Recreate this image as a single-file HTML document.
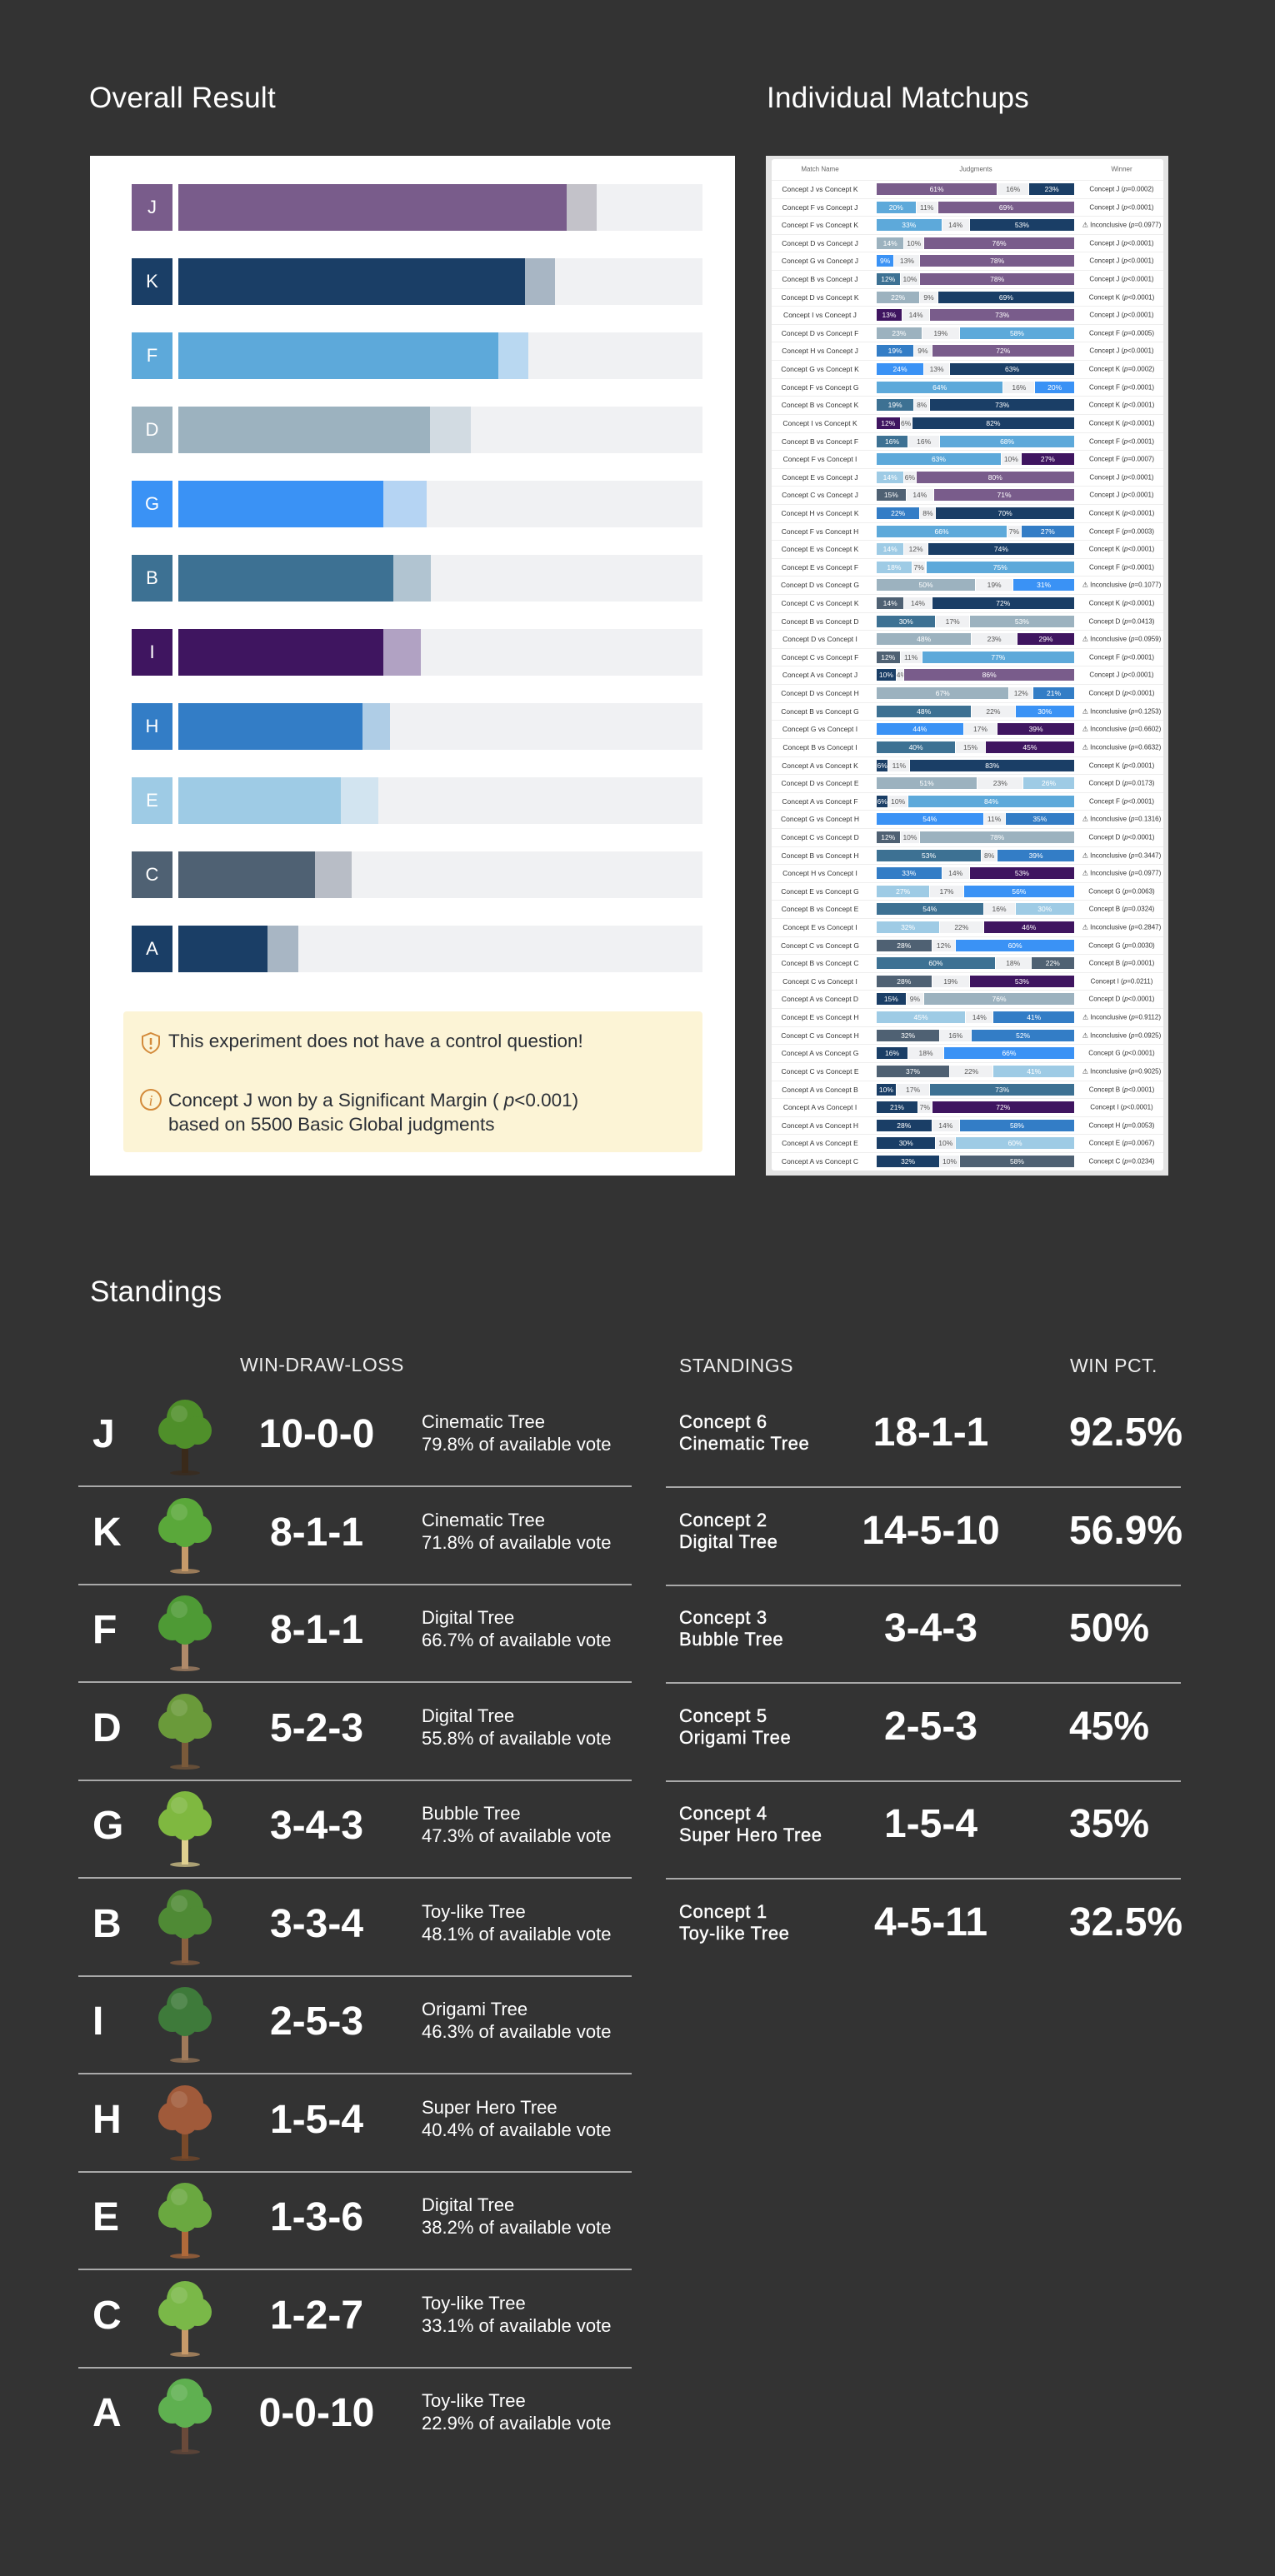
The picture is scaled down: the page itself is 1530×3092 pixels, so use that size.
<!DOCTYPE html>
<html><head><meta charset="utf-8">
<style>
html,body{margin:0;padding:0}
body{width:1530px;height:3092px;background:#333333;position:relative;overflow:hidden;font-family:"Liberation Sans",sans-serif;color:#fff}
.abs{position:absolute}
.title{font-size:35px;color:#fff;white-space:nowrap;font-family:"Liberation Sans Narrow","Liberation Sans",sans-serif;letter-spacing:0.3px}
.mtxt{position:absolute;font-size:8.5px;color:#333;white-space:nowrap;transform:translate(-50%,-50%)}
.seg{position:absolute;height:14px;font-size:8.5px;line-height:14px;text-align:center;overflow:hidden;white-space:nowrap}
.sep{position:absolute;height:2px;background:#a9a9a9}
.hdr{position:absolute;font-size:23px;color:#eee;letter-spacing:0.5px;white-space:nowrap}
</style></head>
<body>

<div class="abs title" style="left:107px;top:98px">Overall Result</div>
<div class="abs title" style="left:920px;top:98px">Individual Matchups</div>

<div class="abs" id="overall" style="left:108px;top:187px;width:774px;height:1224px;background:#fff">
  <div class="abs" style="left:40px;top:1027px;width:695px;height:169px;background:#fcf4d6;border-radius:4px">
    <svg class="abs" style="left:20px;top:24px" width="26" height="28" viewBox="0 0 26 28"><path d="M13 2 L23 6 L23 14 C23 20 18 24 13 26 C8 24 3 20 3 14 L3 6 Z" fill="none" stroke="#d38a3a" stroke-width="2"/><line x1="13" y1="8" x2="13" y2="16" stroke="#d38a3a" stroke-width="2.5"/><circle cx="13" cy="20" r="1.5" fill="#d38a3a"/></svg>
    <div class="abs" style="left:54px;top:23px;font-size:22.5px;color:#2b2f36;white-space:nowrap">This experiment does not have a control question!</div>
    <svg class="abs" style="left:19px;top:92px" width="28" height="28" viewBox="0 0 28 28"><circle cx="14" cy="14" r="12" fill="none" stroke="#d38a3a" stroke-width="2"/><text x="14" y="21" text-anchor="middle" font-family="Liberation Serif" font-style="italic" font-size="18" fill="#d38a3a">i</text></svg>
    <div class="abs" style="left:54px;top:92px;font-size:22.5px;line-height:29px;color:#2b2f36;white-space:nowrap">Concept J won by a Significant Margin ( <i>p</i>&lt;0.001)<br>based on 5500 Basic Global judgments</div>
  </div>
</div>

<div class="abs" style="left:919px;top:187px;width:483px;height:1224px;background:#e4e4e4">
  <div class="abs" id="mcard" style="left:7px;top:4px;width:470px;height:1214px;background:#fff;border-radius:3px"></div>
</div>

<div class="abs title" style="left:108px;top:1531px">Standings</div>
<div class="hdr" style="left:288px;top:1625px">WIN-DRAW-LOSS</div>
<div class="hdr" style="left:815px;top:1626px">STANDINGS</div>
<div class="hdr" style="left:1284px;top:1626px">WIN PCT.</div>
<div id="stand"></div>

<script>
// ---- Overall result data ----
const overallLetters = ['J','K','F','D','G','B','I','H','E','C','A'];
const overallWin = [74.1,66.1,61.0,48.0,39.1,41.0,39.1,35.1,31.0,26.1,17.0];
const overallTotal = [79.8,71.8,66.7,55.8,47.3,48.1,46.3,40.4,38.2,33.1,22.9];
const colors = {J:'#795c8b',K:'#1a3e66',F:'#5da9da',D:'#9cb2bf',G:'#3a92f5',B:'#3d7193',I:'#3f1560',H:'#337dc6',E:'#9ecbe5',C:'#4f6173',A:'#1a3e66'};
const lightColors = {J:'#c3c2c9',K:'#a8b6c4',F:'#b9d8f1',D:'#d2dbe2',G:'#b5d4f3',B:'#b1c4d1',I:'#b1a2c3',H:'#afcde6',E:'#d2e4f0',C:'#b8bdc6',A:'#a8b6c4'};

const ov = document.getElementById('overall');
const trackX = 106, trackW = 629;
function xScale(p){return p/100*trackW;}
overallLetters.forEach((L,i)=>{
  const top = 34 + i*89;
  const lab = document.createElement('div');
  
  
  lab.style.cssText = `position:absolute;left:50px;top:${top}px;width:49px;height:56px;background:${colors[L]};color:#fff;font-size:22px;line-height:56px;text-align:center`;
  lab.textContent = L;
  ov.appendChild(lab);
  const tr = document.createElement('div');
  
  
  tr.style.cssText = `position:absolute;left:${trackX}px;top:${top}px;width:${trackW}px;height:56px;background:#f0f1f3`;
  ov.appendChild(tr);
  const lt = document.createElement('div');
  
  
  lt.style.cssText = `position:absolute;left:${trackX}px;top:${top}px;width:${xScale(overallTotal[i])}px;height:56px;background:${lightColors[L]}`;
  ov.appendChild(lt);
  const dk = document.createElement('div');
  
  
  dk.style.cssText = `position:absolute;left:${trackX}px;top:${top}px;width:${xScale(overallWin[i])}px;height:56px;background:${colors[L]}`;
  ov.appendChild(dk);
});

// ---- Matchup data ----
const mFirst = ['J','F','F','D','G','B','D','I','D','H','G','F','B','I','B','F','E','C','H','F','E','E','D','C','B','D','C','A','D','B','G','B','A','D','A','G','C','B','H','E','B','E','C','B','C','A','E','C','A','C','A','A','A','A','A'];
const mSecond = ['K','J','K','J','J','J','K','J','F','J','K','G','K','K','F','I','J','J','K','H','K','F','G','K','D','I','F','J','H','G','I','I','K','E','F','H','D','H','I','G','E','I','G','C','I','D','H','H','G','E','B','I','H','E','C'];
const mFirstPct = [61,20,33,14,9,12,22,13,23,19,24,64,19,12,16,63,14,15,22,66,14,18,50,14,30,48,12,10,67,48,44,40,6,51,6,54,12,53,33,27,54,32,28,60,28,15,45,32,16,37,10,21,28,30,32];
const mDrawPct = [16,11,14,10,13,10,9,14,19,9,13,16,8,6,16,10,6,14,8,7,12,7,19,14,17,23,11,4,12,22,17,15,11,23,10,11,10,8,14,17,16,22,12,18,19,9,14,16,18,22,17,7,14,10,10];
const mSecondPct = [23,69,53,76,78,78,69,73,58,72,63,20,73,82,68,27,80,71,70,27,74,75,31,72,53,29,77,86,21,30,39,45,83,26,84,35,78,39,53,56,30,46,60,22,53,76,41,52,66,41,73,72,58,60,58];
const mWinner = ['J','J','?','J','J','J','K','J','F','J','K','F','K','K','F','F','J','J','K','F','K','F','?','K','D','?','F','J','D','?','?','?','K','D','F','?','D','?','?','G','B','?','G','B','I','D','?','?','G','?','B','I','H','E','C'];
const mPValue = ['=0.0002','<0.0001','=0.0977','<0.0001','<0.0001','<0.0001','<0.0001','<0.0001','=0.0005','<0.0001','=0.0002','<0.0001','<0.0001','<0.0001','<0.0001','=0.0007','<0.0001','<0.0001','<0.0001','=0.0003','<0.0001','<0.0001','=0.1077','<0.0001','=0.0413','=0.0959','<0.0001','<0.0001','<0.0001','=0.1253','=0.6602','=0.6632','<0.0001','=0.0173','<0.0001','=0.1316','<0.0001','=0.3447','=0.0977','=0.0063','=0.0324','=0.2847','=0.0030','=0.0001','=0.0211','<0.0001','=0.9112','=0.0925','<0.0001','=0.9025','<0.0001','<0.0001','=0.0053','=0.0067','=0.0234'];

const mc = document.getElementById('mcard');
[['Match Name',58],['Judgments',245],['Winner',420]].forEach(([t,x])=>{
  const h = document.createElement('div');
  h.className='mtxt';
  
  
  h.style.left = x+'px'; h.style.top='12px'; h.style.color='#666'; h.style.fontSize='8px';
  h.textContent = t;
  mc.appendChild(h);
});
const barX = 126, barW = 238, rowY0 = 36, rowH = 21.61;
function bx(p){return p/100*barW;}
mFirst.forEach((a,i)=>{
  const b = mSecond[i];
  const cy = rowY0 + i*rowH;
  const line = document.createElement('div');
  
  
  line.style.cssText = `position:absolute;left:0;width:470px;top:${cy-11}px;height:1px;background:#eeeeee`;
  mc.appendChild(line);
  const nm = document.createElement('div');
  nm.className='mtxt';
  
  
  nm.style.left='58px'; nm.style.top=cy+'px';
  nm.textContent = `Concept ${a} vs Concept ${b}`;
  mc.appendChild(nm);
  const parts = [[mFirstPct[i],colors[a],'#fff'],[mDrawPct[i],'#f0f1f3','#555'],[mSecondPct[i],colors[b],'#fff']];
  let x = barX;
  parts.forEach((p,k)=>{
    const s = document.createElement('div');
    s.className='seg';
    
    
    const w = bx(p[0]);
    s.style.left = x+'px'; s.style.top=(cy-7)+'px'; s.style.width=(w-1)+'px';
    s.style.background=p[1]; s.style.color=p[2];
    s.textContent = p[0]+'%';
    mc.appendChild(s);
    x += w;
  });
  const wn = document.createElement('div');
  wn.className='mtxt';
  
  
  wn.style.left='420px'; wn.style.top=cy+'px'; wn.style.fontSize='8px';
  const w = mWinner[i];
  wn.innerHTML = (w==='?' ? '&#9888; Inconclusive' : 'Concept '+w) + ' (<i>p</i>' + mPValue[i].replace('<','&lt;') + ')';
  mc.appendChild(wn);
});

// ---- Standings ----
const stLetters = ['J','K','F','D','G','B','I','H','E','C','A'];
const stRecords = ['10-0-0','8-1-1','8-1-1','5-2-3','3-4-3','3-3-4','2-5-3','1-5-4','1-3-6','1-2-7','0-0-10'];
const stStyles = ['Cinematic Tree','Cinematic Tree','Digital Tree','Digital Tree','Bubble Tree','Toy-like Tree','Origami Tree','Super Hero Tree','Digital Tree','Toy-like Tree','Toy-like Tree'];
const stVote = ['79.8','71.8','66.7','55.8','47.3','48.1','46.3','40.4','38.2','33.1','22.9'];
const treeGreens = ['#4f8f2a','#5aa83a','#4e9a35','#6a9a3a','#7fb840','#4f8a35','#3e7a3a','#a05a3a','#6aa840','#7ab848','#5fb050'];
const trunkCols = ['#3a2a1a','#c69a6a','#b08a6a','#7a5a3a','#e0d090','#8a6040','#a07a5a','#7a4a2a','#b06a3a','#c89a6a','#6a4a3a'];

const st = document.getElementById('stand');
const rowPitch = 117.5;
stLetters.forEach((L,i)=>{
  const cy = 1722 + i*rowPitch;
  const let_ = document.createElement('div');
  
  
  let_.style.cssText = `position:absolute;left:111px;top:${cy-28}px;font-size:48px;line-height:56px;font-weight:bold;color:#fff`;
  let_.textContent = L;
  st.appendChild(let_);
  const tree = document.createElementNS('http://www.w3.org/2000/svg','svg');
  
  
  tree.setAttribute('width','90'); tree.setAttribute('height','100');
  tree.style.cssText = `position:absolute;left:177px;top:${cy-50}px`;
  const g = treeGreens[i], t = trunkCols[i];
  tree.innerHTML = `<rect x="41" y="50" width="8" height="46" fill="${t}"/><ellipse cx="45" cy="96" rx="18" ry="3" fill="${t}" opacity="0.7"/>
  <circle cx="45" cy="30" r="22" fill="${g}"/><circle cx="30" cy="45" r="17" fill="${g}"/><circle cx="60" cy="45" r="17" fill="${g}"/>
  <circle cx="45" cy="52" r="15" fill="${g}"/><circle cx="38" cy="25" r="10" fill="#ffffff" opacity="0.12"/>`;
  st.appendChild(tree);
  const rec = document.createElement('div');
  
  
  rec.style.cssText = `position:absolute;left:300px;width:160px;text-align:center;top:${cy-28}px;font-size:48px;line-height:56px;font-weight:bold;color:#fff;white-space:nowrap`;
  rec.textContent = stRecords[i];
  st.appendChild(rec);
  const d = document.createElement('div');
  
  
  d.style.cssText = `position:absolute;left:506px;top:${cy-29}px;font-size:22px;line-height:27px;color:#fff;white-space:nowrap`;
  d.innerHTML = stStyles[i] + '<br>' + stVote[i] + '% of available vote';
  st.appendChild(d);
  if(i<10){
    const s = document.createElement('div');
    s.className='sep';
    
    
    s.style.left='94px'; s.style.width='664px'; s.style.top=(1783+i*rowPitch)+'px';
    st.appendChild(s);
  }
});

const grpNames = ['Concept 6','Concept 2','Concept 3','Concept 5','Concept 4','Concept 1'];
const grpStyles = ['Cinematic Tree','Digital Tree','Bubble Tree','Origami Tree','Super Hero Tree','Toy-like Tree'];
const grpRecords = ['18-1-1','14-5-10','3-4-3','2-5-3','1-5-4','4-5-11'];
const grpPct = ['92.5%','56.9%','50%','45%','35%','32.5%'];
const grpPitch = 117.5;
grpNames.forEach((n,i)=>{
  const cy = 1720 + i*grpPitch;
  const d = document.createElement('div');
  
  
  d.style.cssText = `position:absolute;left:815px;top:${cy-26}px;font-size:22px;line-height:26px;color:#fff;letter-spacing:0.6px;-webkit-text-stroke:0.4px #fff;white-space:nowrap`;
  d.innerHTML = n + '<br>' + grpStyles[i];
  st.appendChild(d);
  const r = document.createElement('div');
  
  
  r.style.cssText = `position:absolute;left:1017px;width:200px;text-align:center;top:${cy-28}px;font-size:48px;line-height:56px;font-weight:bold;color:#fff;white-space:nowrap`;
  r.textContent = grpRecords[i];
  st.appendChild(r);
  const p = document.createElement('div');
  
  
  p.style.cssText = `position:absolute;left:1283px;top:${cy-28}px;font-size:48px;line-height:56px;font-weight:bold;color:#fff;white-space:nowrap`;
  p.textContent = grpPct[i];
  st.appendChild(p);
  if(i<5){
    const s = document.createElement('div');
    s.className='sep';
    
    
    s.style.left='799px'; s.style.width='618px'; s.style.top=(1784+i*grpPitch)+'px';
    st.appendChild(s);
  }
});
</script>
</body></html>
